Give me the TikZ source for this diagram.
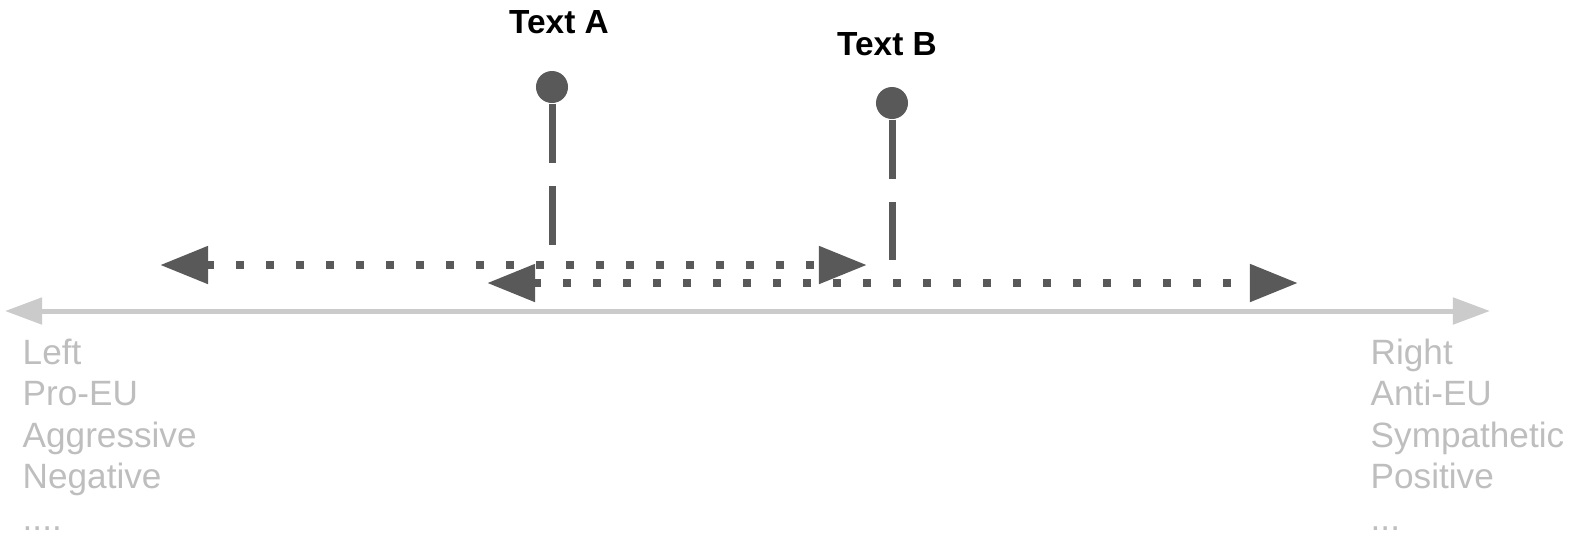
\documentclass[tikz,border=0pt]{standalone}
\usepackage{fontspec}
\setmainfont{Liberation Sans}
\usetikzlibrary{arrows.meta}

\definecolor{pindark}{HTML}{595959}
\definecolor{axisgray}{HTML}{CBCBCB}
\definecolor{labelgray}{HTML}{BEBEBE}

\begin{document}
\begin{tikzpicture}[x=0.01cm, y=-0.01cm,
	pinhead/.style={circle, fill=pindark, minimum size=0.32cm, inner sep=0},
	pinstem/.style={line width=0.07cm, color=pindark, dash pattern=on 0.59cm off 0.235cm},
	spread/.style={line width=0.08cm, color=pindark, dash pattern=on 0.08cm off 0.22cm,
		{Triangle[length=0.48cm, width=0.36cm]}-{Triangle[length=0.48cm, width=0.36cm]}},
	scaleline/.style={line width=0.05cm, color=axisgray,
		{Triangle[length=0.37cm, width=0.26cm]}-{Triangle[length=0.37cm, width=0.26cm]}},
	sidelabel/.style={align=left, anchor=north west, inner sep=0, text=labelgray,
		font=\fontsize{10}{11.8}\selectfont},
	pintitle/.style={anchor=base, inner sep=0, font=\fontsize{9.5}{11}\selectfont\bfseries}]

	\useasboundingbox (0,0) rectangle (1575,541);

	% the scale underneath
	\coordinate (ax1) at (5,311);
	\coordinate (ax2) at (1490,311);
	\draw[scaleline] (ax1) -- (ax2);

	\node[sidelabel] (lside) at (22,338) {Left\\Pro-EU\\Aggressive\\Negative\\....};
	\node[sidelabel] (rside) at (1370,338) {Right\\Anti-EU\\Sympathetic\\Positive\\...};

	% spread of each text along the scale
	\coordinate (rb1) at (487,283);
	\coordinate (rb2) at (1298,283);
	\draw[spread] (rb1) -- (rb2);

	\coordinate (ra1) at (160,265);
	\coordinate (ra2) at (867,265);
	\draw[spread] (ra1) -- (ra2);

	% pins with their titles
	\node[pinhead] (pa) at (552,87) {};
	\node[pinhead] (pb) at (892,103) {};
	\coordinate (sa) at (552,245);
	\coordinate (sb) at (892,260);
	\draw[pinstem] (pa.south) -- (sa);
	\draw[pinstem] (pb.south) -- (sb);

	\node[pintitle] (ta) at (559,33) {Text A};
	\node[pintitle] (tb) at (887,55) {Text B};
\end{tikzpicture}
\end{document}
